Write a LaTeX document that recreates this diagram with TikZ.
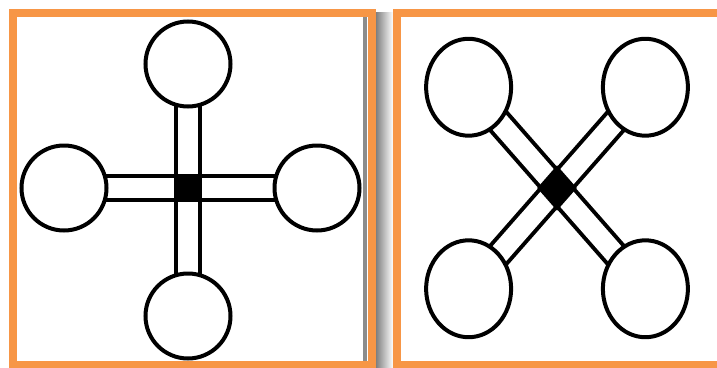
\documentclass[tikz,border=0pt]{standalone}
\usepackage{xcolor}
\usetikzlibrary{backgrounds}
\definecolor{naranja}{RGB}{247,150,70}
\tikzset{
  bola/.style={circle, draw=black, line width=4pt, fill=white, minimum size=85pt, inner sep=0pt},
  nucleo/.style={rectangle, fill=black, minimum size=28pt, inner sep=0pt},
  barra/.style={draw=black, line width=4pt, double=white, double distance=20pt},
  marco/.style={draw=naranja, line width=8pt}
}
\begin{document}
\begin{tikzpicture}[x=1pt,y=-1pt]
\useasboundingbox (0,0) rectangle (717,367);
%% sombras de los marcos %%%%%%%%%%%%%%%%%%%%%%%%%%%%%
\shade[left color=black!50, right color=white] (376,12) rectangle (393,367);
\draw[black!45, line width=4pt] (365,17) -- (365,361);
%% marcos naranjas %%%%%%%%%%%%%%%%%%%%%%%%%%%%%%%%%%%%
\draw[marco] (13,13) rectangle (372,365);
\draw[marco] (397,13) rectangle (721,365);

%% Molecula en cruz (+) %%%%%%%%%%%%%%%%%%%%%%%%%%%%%%%
\node[nucleo] (c1) at (188,188) {};
\node[bola] (n1) at (188,64) {};
\node[bola] (s1) at (188,316) {};
\node[bola] (w1) at (64,188) {};
\node[bola] (e1) at (317,188) {};
\begin{pgfonlayer}{background}
\foreach \iB in {n1,s1,w1,e1}{
\draw[barra] (c1.center) -- (\iB.center);
}
\end{pgfonlayer}

%% Molecula en X, girada 45 grados %%%%%%%%%%%%%%%%%%%%
\def\iBrazo{125}
\begin{scope}[shift={(557,188)}, yscale=1.14, rotate=45, transform shape]
\node[nucleo] (c2) at (0,0) {};
\node[bola] (ne) at (\iBrazo,0) {};
\node[bola] (se) at (0,\iBrazo) {};
\node[bola] (sw) at (-\iBrazo,0) {};
\node[bola] (nw) at (0,-\iBrazo) {};
\end{scope}
\begin{pgfonlayer}{background}
\foreach \iB in {ne,se,sw,nw}{
\draw[barra] (c2.center) -- (\iB.center);
}
\end{pgfonlayer}
\end{tikzpicture}
\end{document}
